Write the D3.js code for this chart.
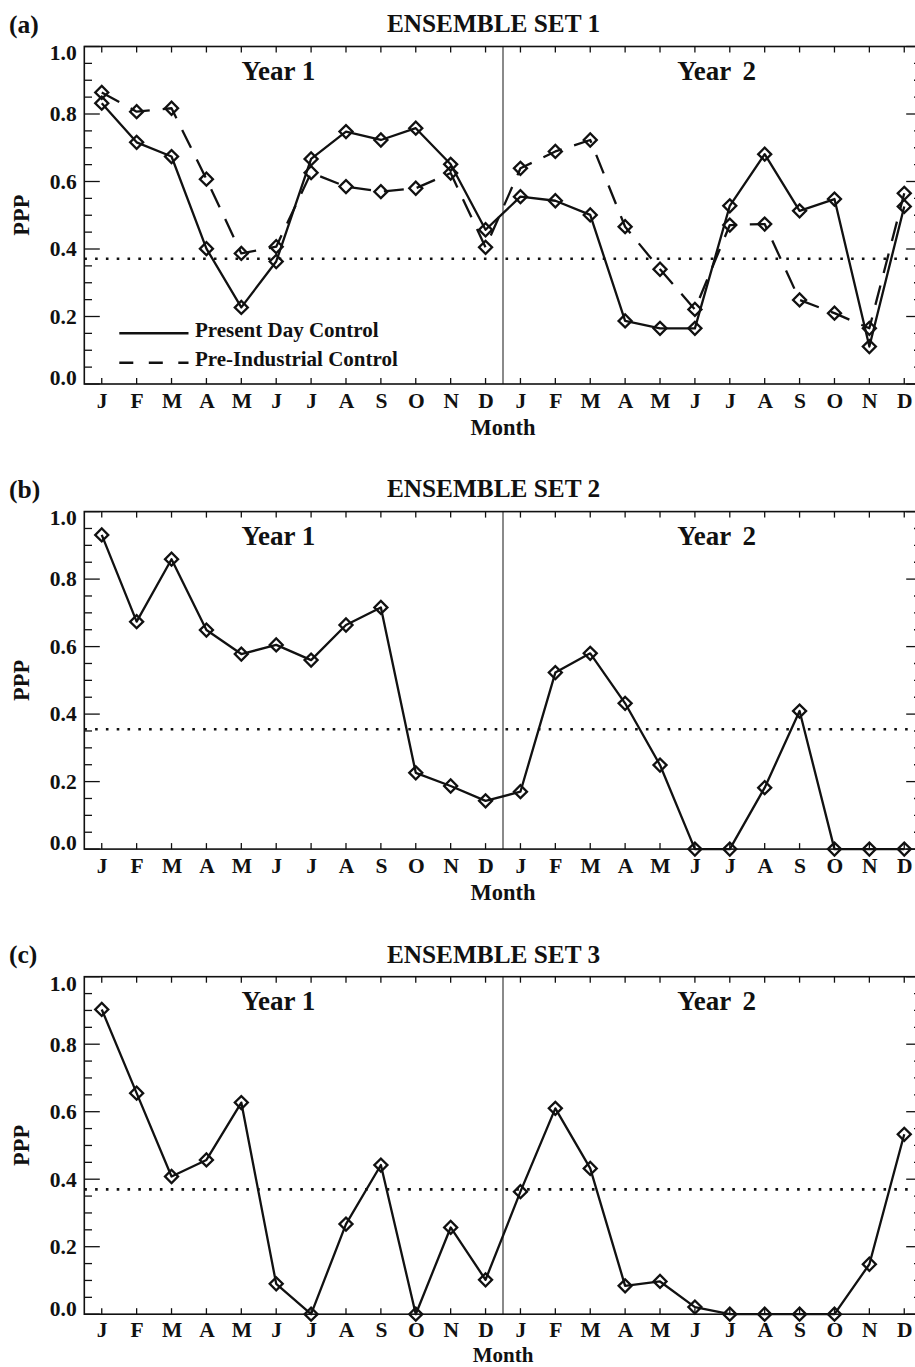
<!DOCTYPE html>
<html>
<head>
<meta charset="utf-8">
<script src="https://cdn.jsdelivr.net/npm/d3@7"></script>
<style>
  html, body { margin: 0; padding: 0; background: #fff; }
  svg { display: block; }
  text { font-family: "Liberation Serif", "Times New Roman", serif; font-weight: bold; fill: #111; }
</style>
</head>
<body>
<script>
// ---------- data ----------
const monthLabels = ["J","F","M","A","M","J","J","A","S","O","N","D",
                     "J","F","M","A","M","J","J","A","S","O","N","D"];
const yTickValues = [0.0, 0.2, 0.4, 0.6, 0.8, 1.0];
const panelLetters = ["(a)", "(b)", "(c)"];
const panelTitles = ["ENSEMBLE SET 1", "ENSEMBLE SET 2", "ENSEMBLE SET 3"];
const yearLabels = ["Year 1", "Year 2"];
const legendLabels = ["Present Day Control", "Pre-Industrial Control"];

const set1PresentDay = [0.832,0.716,0.674,0.401,0.227,0.363,0.667,0.748,0.723,0.758,0.651,0.457,
                        0.555,0.543,0.501,0.187,0.165,0.165,0.528,0.681,0.513,0.548,0.111,0.526];
const set1PreIndustrial = [0.864,0.807,0.817,0.607,0.387,0.407,0.626,0.585,0.570,0.580,0.625,0.405,
                           0.639,0.689,0.723,0.466,0.340,0.221,0.471,0.474,0.249,0.210,0.165,0.565];
const set2PresentDay = [0.931,0.674,0.859,0.649,0.578,0.605,0.560,0.664,0.716,0.226,0.187,0.143,
                        0.170,0.523,0.580,0.432,0.249,0.000,0.000,0.182,0.409,0.000,0.000,0.000];
const set3PresentDay = [0.903,0.655,0.408,0.457,0.627,0.090,0.000,0.267,0.442,0.000,0.257,0.102,
                        0.363,0.610,0.432,0.084,0.097,0.021,0.000,0.000,0.000,0.000,0.148,0.533];
const thresholds = [0.371, 0.355, 0.370];

// ---------- layout ----------
const W = 915, H = 1367;
const plotLeft = 84.3, plotRight = 921.7;
const plotH = 337.5;
const panelTops = [46.5, 511.6, 976.7];
const monthOffsets = [51, 51, 47.3];
const monthSizes = [22.5, 22.5, 21];
const tickLabelOffsets = [24.3, 24.3, 22.8];
const ink = "#111";

const panels = [
  { series: [{ values: set1PresentDay, dash: null }, { values: set1PreIndustrial, dash: "20,13" }], legend: true },
  { series: [{ values: set2PresentDay, dash: null }], legend: false },
  { series: [{ values: set3PresentDay, dash: null }], legend: false }
];

const svg = d3.select("body").append("svg").attr("width", W).attr("height", H);

const x = d3.scaleLinear().domain([-0.5, 23.5]).range([plotLeft, plotRight]);
const idx = d3.range(monthLabels.length);

panels.forEach((p, pi) => {
  const top = panelTops[pi], bottom = top + plotH;
  const y = d3.scaleLinear().domain([0, 1]).range([bottom, top]);
  const g = svg.append("g");

  // panel letter and title
  g.append("text").attr("x", 9).attr("y", top - 13.5).attr("font-size", 25.5).text(panelLetters[pi]);
  g.append("text").attr("x", 493.5).attr("y", top - 14.2).attr("text-anchor", "middle")
    .attr("font-size", 25.3).text(panelTitles[pi]);

  // year separator (gray)
  g.append("line").attr("x1", x(11.5)).attr("x2", x(11.5)).attr("y1", top).attr("y2", bottom)
    .attr("stroke", "#8a8a8a").attr("stroke-width", 2);

  // threshold dotted line
  g.append("line").attr("x1", plotLeft).attr("x2", plotRight)
    .attr("y1", y(thresholds[pi])).attr("y2", y(thresholds[pi]))
    .attr("stroke", ink).attr("stroke-width", 2.6).attr("stroke-dasharray", "2.6,8.2");

  // frame
  g.append("rect").attr("x", plotLeft).attr("y", top).attr("width", plotRight - plotLeft).attr("height", plotH)
    .attr("fill", "none").attr("stroke", ink).attr("stroke-width", 1.6);

  // y ticks both sides (major 0.2, minor 0.05)
  const yMinor = d3.range(0, 1.0001, 0.05);
  yMinor.forEach(v => {
    const major = Math.abs(Math.round(v * 5) - v * 5) < 1e-6;
    const len = major ? 15.5 : 7.7;
    g.append("line").attr("x1", plotLeft).attr("x2", plotLeft + len).attr("y1", y(v)).attr("y2", y(v))
      .attr("stroke", ink).attr("stroke-width", 1.3);
    g.append("line").attr("x1", plotRight).attr("x2", plotRight - len).attr("y1", y(v)).attr("y2", y(v))
      .attr("stroke", ink).attr("stroke-width", 1.3);
  });

  // y tick labels via axis
  const yAxisG = g.append("g").attr("transform", `translate(${plotLeft},0)`)
    .call(d3.axisLeft(y).tickValues(yTickValues).tickSize(0).tickPadding(7.6).tickFormat(d3.format(".1f")));
  yAxisG.select(".domain").remove();
  yAxisG.selectAll("text").attr("font-size", 21.5).attr("font-family", null).attr("fill", ink)
    .attr("dy", d => d === 0 ? "0.04em" : (d === 1 ? "0.62em" : "0.32em"));

  // x ticks top & bottom
  idx.forEach(i => {
    g.append("line").attr("x1", x(i)).attr("x2", x(i)).attr("y1", bottom).attr("y2", bottom - 6)
      .attr("stroke", ink).attr("stroke-width", 1.3);
    g.append("line").attr("x1", x(i)).attr("x2", x(i)).attr("y1", top).attr("y2", top + 6)
      .attr("stroke", ink).attr("stroke-width", 1.3);
  });
  const xAxisG = g.append("g").attr("transform", `translate(0,${bottom})`)
    .call(d3.axisBottom(x).tickValues(idx).tickSize(0).tickPadding(0).tickFormat(i => monthLabels[i]));
  xAxisG.select(".domain").remove();
  xAxisG.selectAll("text").attr("font-size", 21.5).attr("font-family", null).attr("fill", ink)
    .attr("y", tickLabelOffsets[pi]).attr("dy", null);

  // axis titles
  g.append("text").attr("x", x(11.5)).attr("y", bottom + monthOffsets[pi]).attr("text-anchor", "middle")
    .attr("font-size", monthSizes[pi]).text("Month");
  g.append("text").attr("transform", `translate(28.5,${(top + bottom) / 2}) rotate(-90)`)
    .attr("text-anchor", "middle").attr("font-size", 22.5).text("PPP");

  // year labels
  g.append("text").attr("x", x(5.06)).attr("y", top + 33.5).attr("text-anchor", "middle")
    .attr("font-size", 27).text(yearLabels[0]);
  g.append("text").attr("x", x(17.62)).attr("y", top + 33.5).attr("text-anchor", "middle")
    .attr("font-size", 27).attr("word-spacing", 5).text(yearLabels[1]);

  // series
  const line = d3.line().x((d, i) => x(i)).y(d => y(d));
  const diamond = d3.symbol().type(d3.symbolSquare).size(85);
  p.series.forEach(s => {
    g.append("path").datum(s.values).attr("d", line).attr("fill", "none")
      .attr("stroke", ink).attr("stroke-width", 2.3).attr("stroke-linejoin", "round")
      .attr("stroke-dasharray", s.dash);
    g.selectAll(null).data(s.values).enter().append("path")
      .attr("d", diamond)
      .attr("transform", (d, i) => `translate(${x(i)},${y(d)}) rotate(45)`)
      .attr("fill", "none").attr("stroke", ink).attr("stroke-width", 2.3);
  });

  // legend
  if (p.legend) {
    const lx0 = 119.3, lx1 = 188.5, tx = 195;
    const rows = [{ yl: 333.3, yt: 337.0, dash: null }, { yl: 362.7, yt: 366.3, dash: "14,15.5" }];
    rows.forEach((r, ri) => {
      g.append("line").attr("x1", lx0).attr("x2", lx1).attr("y1", r.yl).attr("y2", r.yl)
        .attr("stroke", ink).attr("stroke-width", 2.4).attr("stroke-dasharray", r.dash);
      g.append("text").attr("x", tx).attr("y", r.yt).attr("font-size", 21).text(legendLabels[ri]);
    });
  }
});
</script>
</body>
</html>
